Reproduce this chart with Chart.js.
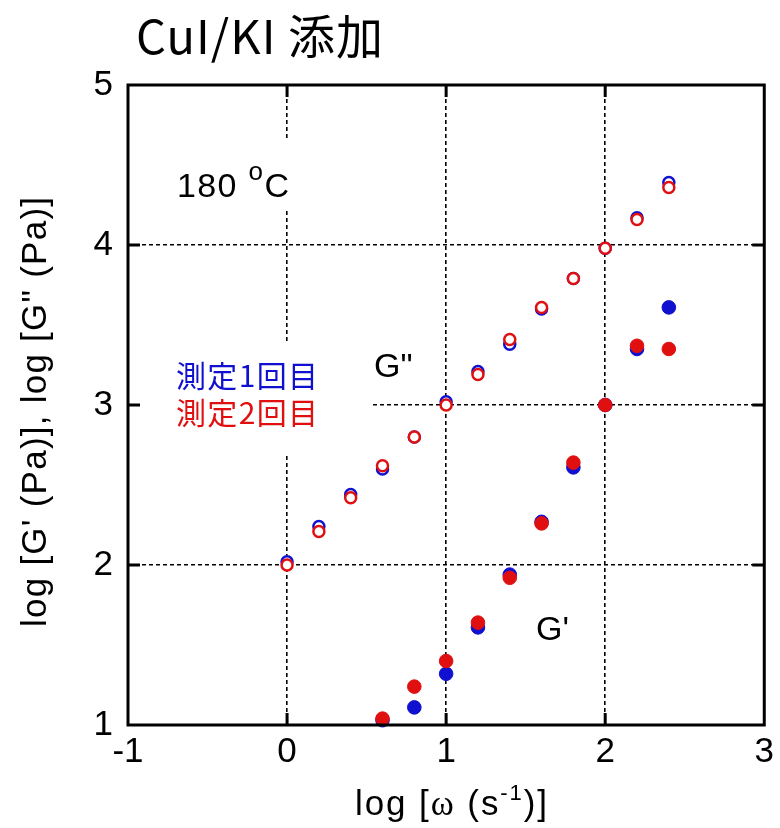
<!DOCTYPE html>
<html>
<head>
<meta charset="utf-8">
<script src="https://cdn.jsdelivr.net/npm/chart.js@4.4.1/dist/chart.umd.min.js"></script>
<style>
  body { margin: 0; background: #fff; }
  #chart { display: block; }
</style>
</head>
<body>
<canvas id="chart" width="780" height="828"></canvas>
<script>
// log(omega) for G'' and G'
const omegaGpp = [0, 0.2, 0.4, 0.6, 0.8, 1.0, 1.2, 1.4, 1.6, 1.8, 2.0, 2.2, 2.4];
const omegaGp = [0.6, 0.8, 1.0, 1.2, 1.4, 1.6, 1.8, 2.0, 2.2, 2.4];

// run 1 (blue) and run 2 (red)
const gpp1 = [2.02, 2.24, 2.44, 2.60, 2.80, 3.02, 3.21, 3.38, 3.60, 3.79, 3.98, 4.17, 4.39];
const gpp2 = [2.00, 2.21, 2.42, 2.62, 2.80, 3.00, 3.19, 3.41, 3.61, 3.79, 3.98, 4.16, 4.36];
const gp1 = [1.03, 1.11, 1.32, 1.61, 1.94, 2.27, 2.61, 3.00, 3.35, 3.61];
const gp2 = [1.04, 1.24, 1.40, 1.64, 1.92, 2.26, 2.64, 3.00, 3.37, 3.35];

const xTicks = [-1, 0, 1, 2, 3];
const yTicks = [1, 2, 3, 4, 5];

const BLUE = '#1010d0';
const RED = '#e01010';
const SANS = '"Liberation Sans", Arial, sans-serif';
const CJK = '"Noto Sans CJK JP", "Noto Sans", sans-serif';

function toPoints(xs, ys) {
  return xs.map((x, i) => ({ x: x, y: ys[i] }));
}

function openSet(label, data, color, order) {
  return {
    label: label, data: data, order: order,
    pointRadius: 5.5, pointBorderWidth: 2.5,
    pointBackgroundColor: '#fff', pointBorderColor: color,
    showLine: false, clip: false
  };
}

function filledSet(label, data, color, order) {
  return {
    label: label, data: data, order: order,
    pointRadius: 6.8, pointBorderWidth: 1,
    pointBackgroundColor: color, pointBorderColor: color,
    showLine: false, clip: false
  };
}

// draws pieces of text one after the other, stretched to a target width
function drawPieces(ctx, pieces, x, y, width) {
  let natural = 0, chars = 0;
  pieces.forEach((p) => {
    ctx.font = p.font;
    natural += ctx.measureText(p.t).width;
    chars += p.t.length;
  });
  const spacing = width ? (width - natural) / Math.max(chars - 1, 1) : 0;
  let cx = x;
  pieces.forEach((p) => {
    ctx.font = p.font;
    ctx.fillStyle = p.color || '#000';
    ctx.letterSpacing = spacing + 'px';
    ctx.fillText(p.t, cx, y + (p.dy || 0));
    cx += ctx.measureText(p.t).width;
  });
  ctx.letterSpacing = '0px';
}

const textPlugin = {
  id: 'texts',
  beforeDatasetsDraw(chart) {
    const ctx = chart.ctx;
    ctx.save();
    // white boxes behind the labels inside the plot
    ctx.fillStyle = '#fff';
    ctx.fillRect(168, 140, 130, 68);
    ctx.fillRect(131, 343, 242, 110);

    ctx.textBaseline = 'alphabetic';
    ctx.textAlign = 'left';
    drawPieces(ctx, [
      { t: '180 ', font: '34px ' + SANS },
      { t: 'o', font: '26px ' + SANS, dy: -17 },
      { t: 'C', font: '34px ' + SANS }
    ], 177, 197, 112);

    drawPieces(ctx, [{ t: '測定1回目', font: '30px ' + CJK, color: BLUE }], 176, 387, 142);
    drawPieces(ctx, [{ t: '測定2回目', font: '30px ' + CJK, color: RED }], 176, 424, 142);

    drawPieces(ctx, [{ t: 'G"', font: '34px ' + SANS }], 374, 377);
    drawPieces(ctx, [{ t: "G'", font: '34px ' + SANS }], 536, 640);
    ctx.restore();
  },
  afterDraw(chart) {
    const ctx = chart.ctx;
    const a = chart.chartArea;
    const xs = chart.scales.x, ys = chart.scales.y;
    ctx.save();

    // frame and inward ticks
    ctx.strokeStyle = '#000';
    ctx.lineWidth = 3;
    ctx.strokeRect(a.left, a.top, a.right - a.left, a.bottom - a.top);
    ctx.beginPath();
    xTicks.slice(1, -1).forEach((v) => {
      const px = xs.getPixelForValue(v);
      ctx.moveTo(px, a.bottom); ctx.lineTo(px, a.bottom - 12);
      ctx.moveTo(px, a.top); ctx.lineTo(px, a.top + 12);
    });
    yTicks.slice(1, -1).forEach((v) => {
      const py = ys.getPixelForValue(v);
      ctx.moveTo(a.left, py); ctx.lineTo(a.left + 12, py);
      ctx.moveTo(a.right, py); ctx.lineTo(a.right - 12, py);
    });
    ctx.stroke();

    // title
    ctx.textBaseline = 'alphabetic';
    drawPieces(ctx, [{ t: 'CuI/KI 添加', font: '47px ' + CJK }], 136, 54, 247);

    // x axis title
    drawPieces(ctx, [
      { t: 'log [', font: '35px ' + SANS },
      { t: 'ω', font: '35px "Liberation Serif", serif' },
      { t: ' (s', font: '35px ' + SANS },
      { t: '-1', font: '22px ' + SANS, dy: -15 },
      { t: ')]', font: '35px ' + SANS }
    ], 355, 815, 192);

    // y axis title
    ctx.translate(46, 627);
    ctx.rotate(-Math.PI / 2);
    drawPieces(ctx, [{ t: 'log [G\' (Pa)], log [G" (Pa)]', font: '35px ' + SANS }], 0, 0, 430);
    ctx.restore();
  }
};

function gridColor(c) {
  const v = c.tick.value;
  return (v === c.scale.min || v === c.scale.max) ? 'rgba(0,0,0,0)' : '#000';
}

new Chart(document.getElementById('chart'), {
  type: 'scatter',
  data: {
    datasets: [
      openSet("G'' run1", toPoints(omegaGpp, gpp1), BLUE, 2),
      filledSet("G' run1", toPoints(omegaGp, gp1), BLUE, 2),
      openSet("G'' run2", toPoints(omegaGpp, gpp2), RED, 1),
      filledSet("G' run2", toPoints(omegaGp, gp2), RED, 1)
    ]
  },
  options: {
    responsive: false,
    animation: false,
    devicePixelRatio: 1,
    layout: { padding: { top: 85, right: 13, left: 0, bottom: 0 } },
    plugins: { legend: { display: false }, tooltip: { enabled: false } },
    scales: {
      x: {
        type: 'linear', min: xTicks[0], max: xTicks[xTicks.length - 1],
        afterFit: (scale) => { scale.height = 103; },
        afterBuildTicks: (scale) => { scale.ticks = xTicks.map((v) => ({ value: v })); },
        ticks: { font: { family: SANS, size: 35 }, color: '#000', padding: 6, maxRotation: 0 },
        grid: { color: gridColor, lineWidth: 1.6, drawTicks: false },
        border: { display: false, dash: [4, 3] }
      },
      y: {
        type: 'linear', min: yTicks[0], max: yTicks[yTicks.length - 1],
        afterFit: (scale) => { scale.width = 128; },
        afterBuildTicks: (scale) => { scale.ticks = yTicks.map((v) => ({ value: v })); },
        ticks: { font: { family: SANS, size: 35 }, color: '#000', padding: 15 },
        grid: { color: gridColor, lineWidth: 1.6, drawTicks: false },
        border: { display: false, dash: [4, 3] }
      }
    }
  },
  plugins: [textPlugin]
});
</script>
</body>
</html>
